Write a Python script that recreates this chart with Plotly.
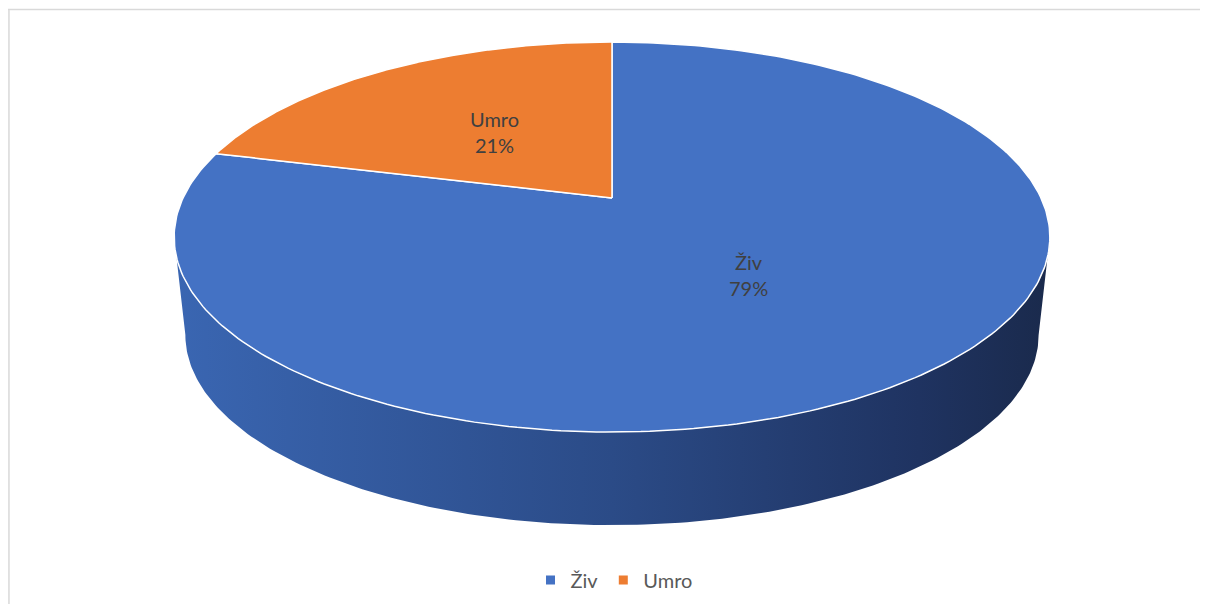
import numpy as np
import plotly.graph_objects as go

# ---- data ----
categories = ["Živ", "Umro"]
values = [79, 21]
colors = ["#4472C4", "#ED7D31"]

# ---- geometry / style (reference pixel space) ----
W, H = 1208, 612
OFF = 8                    # page body margin
FW, FH = W - 2 * OFF, H - 2 * OFF   # figure size that fits the window without scrollbars
CX, CY = 612, 198          # projected pie centre (top face)
A, B, K = 429, 187.2, 0.2  # perspective homography params for top face
CYB, AB, BB = 297, 418, 182.5  # bottom face
FONT = "Lato"


def proj(theta_deg, r=1.0, cy=CY, a=A, b=B):
    t = np.radians(theta_deg)
    u = r * np.cos(t)
    v = r * np.sin(t)
    d = 1 + K * v
    return CX + a * u / d, cy - b * v / d


total = sum(values)
fig = go.Figure()

# slice angle ranges (start at 12 o'clock, clockwise)
ranges = []
start = 90.0
for v in values:
    sweep = 360.0 * v / total
    ranges.append((start - sweep, start))
    start -= sweep

# side walls (front visible portion)
sil = np.degrees(np.arcsin(K))
front_lo, front_hi = -180 + sil, -sil
for (lo, hi), col, name in zip(ranges, colors, categories):
    for shift in (0, -360, 360):
        a0, a1 = max(lo + shift, front_lo), min(hi + shift, front_hi)
        if a1 > a0:
            ts = np.linspace(a0, a1, 200)
            xt, yt = proj(ts)
            xb, yb = proj(ts[::-1], cy=CYB, a=AB, b=BB)
            xs = np.concatenate([xt, xb, xt[:1]])
            ys = np.concatenate([yt, yb, yt[:1]])
            if col == colors[0]:
                scale = [[0, "#3A66B2"], [0.5, "#2B4B87"], [0.85, "#1F3361"], [1, "#1A2A4C"]]
            else:
                scale = [[0, "#E0732A"], [1, "#8A4515"]]
            fig.add_trace(go.Scatter(
                x=xs, y=ys, mode="lines", fill="toself",
                line=dict(width=0, color=col),
                fillgradient=dict(type="horizontal", colorscale=scale),
                hoverinfo="skip", showlegend=False))

# top faces
for (lo, hi), col, name in zip(ranges, colors, categories):
    ts = np.linspace(lo, hi, 300)
    xa, ya = proj(ts)
    xs = np.concatenate([[CX], xa, [CX]])
    ys = np.concatenate([[CY], ya, [CY]])
    fig.add_trace(go.Scatter(
        x=xs, y=ys, mode="lines", fill="toself", fillcolor=col,
        line=dict(color="white", width=1.5),
        hoverinfo="skip", showlegend=False))

# data labels
for (lo, hi), name, v in zip(ranges, categories, values):
    mx, my = proj((lo + hi) / 2, r=0.48)
    fig.add_annotation(x=mx, y=my, text=f"{name}<br>{round(100 * v / total)}%",
                       showarrow=False, font=dict(family=FONT, size=20, color="#404040"),
                       xanchor="center", yanchor="middle")

# legend entries
for name, col in zip(categories, colors):
    fig.add_trace(go.Scatter(x=[None], y=[None], mode="markers", name=name,
                             marker=dict(symbol="square", size=9, color=col)))

# chart border (only left & top edges are visible)
border = dict(color="#D9D9D9", width=1.5)
ytop = 1 - 1.5 / FH
fig.add_shape(type="line", xref="paper", yref="paper", x0=0.0008, x1=0.0008, y0=0, y1=ytop, line=border)
fig.add_shape(type="line", xref="paper", yref="paper", x0=0, x1=1, y0=ytop, y1=ytop, line=border)

fig.update_layout(
    width=FW, height=FH,
    margin=dict(l=0, r=0, t=0, b=0),
    paper_bgcolor="white", plot_bgcolor="white",
    xaxis=dict(range=[OFF, W - OFF], visible=False, fixedrange=True),
    yaxis=dict(range=[H - OFF, OFF], visible=False, fixedrange=True),
    showlegend=True,
    legend=dict(orientation="h", x=(614 - OFF) / FW, xanchor="center",
                y=1 - (580 - OFF) / FH, yanchor="middle",
                font=dict(family=FONT, size=20, color="#595959"),
                itemwidth=30, tracegroupgap=0, bgcolor="rgba(0,0,0,0)"),
    font=dict(family=FONT),
)

fig.write_html("out.html")
